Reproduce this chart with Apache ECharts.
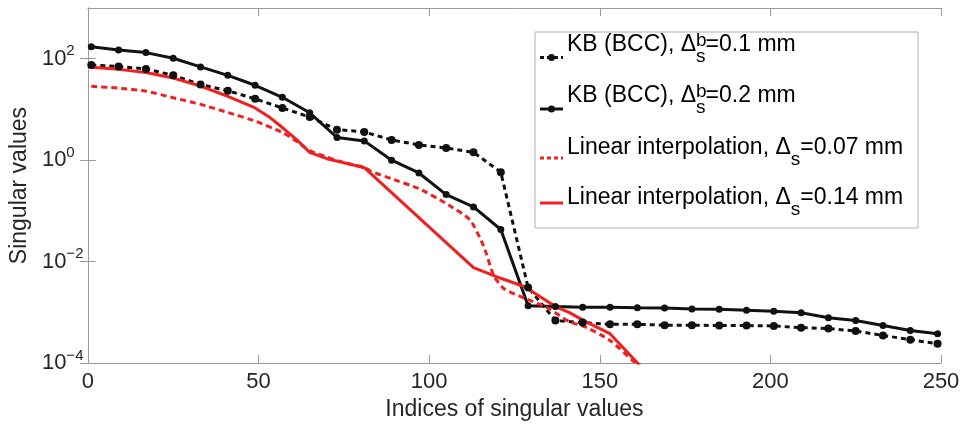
<!DOCTYPE html>
<html>
<head>
<meta charset="utf-8">
<script src="https://cdn.jsdelivr.net/npm/echarts@6/dist/echarts.min.js"></script>
<style>
  html, body { margin: 0; padding: 0; background: #fff; }
  #chart { width: 970px; height: 426px; }
</style>
</head>
<body>
<div id="chart"></div>
<script>
  // indices of the marked points (KB series)
  var kbX = [1, 9, 17, 25, 33, 41, 49, 57, 65, 73, 81, 89, 97, 105, 113, 121,
             129, 137, 145, 153, 161, 169, 177, 185, 193, 201, 209, 217, 225, 233, 241, 249]
  // KB (BCC), delta_s^b = 0.1 mm  (dotted)
  var kb01 = [75, 70, 63, 47, 31, 23.4, 16.2, 10.7, 7.1, 4.0, 3.6, 2.5, 2.0, 1.74, 1.43, 0.58,
              0.0031, 6.9e-4, 6.3e-4, 5.8e-4, 5.8e-4, 5.6e-4, 5.6e-4, 5.5e-4, 5.5e-4, 5.4e-4,
              5.0e-4, 4.8e-4, 4.3e-4, 3.5e-4, 2.9e-4, 2.4e-4]
  // KB (BCC), delta_s^b = 0.2 mm  (solid)
  var kb02 = [172, 148, 132, 102, 69, 47, 30, 17.4, 8.6, 2.8, 2.4, 1.0, 0.56, 0.21, 0.12, 0.043,
              1.35e-3, 1.30e-3, 1.26e-3, 1.26e-3, 1.23e-3, 1.22e-3, 1.17e-3, 1.15e-3, 1.10e-3, 1.05e-3,
              9.8e-4, 7.8e-4, 6.9e-4, 5.5e-4, 4.4e-4, 3.8e-4]
  // linear interpolation, delta_s = 0.07 mm (dashed red)
  var lin007X = [1, 9, 17, 25, 33, 41, 49, 57, 61, 65, 70, 75, 81, 83, 89, 97, 105, 112, 116, 119, 122, 128, 135, 141, 146, 153, 160, 162]
  var lin007 = [28.6, 26.3, 22.9, 17, 12.6, 8.7, 5.9, 3.5, 2.4, 1.55, 1.15, 0.9, 0.72, 0.6, 0.43, 0.275, 0.14, 0.066,
                0.02, 0.0052, 0.0029, 0.0019, 0.0012, 6.6e-4, 5.1e-4, 2.8e-4, 1.07e-4, 8e-5]
  // linear interpolation, delta_s = 0.14 mm (solid red)
  var lin014X = [1, 9, 17, 25, 33, 41, 49, 53, 57, 61, 65, 70, 75, 81, 113, 121, 128, 137, 141, 146, 153, 161, 162]
  var lin014 = [67.6, 61.7, 53.7, 41.7, 28.8, 18.2, 10.7, 7.2, 4.4, 2.6, 1.43, 1.07, 0.89, 0.71,
                0.0076, 0.0047, 0.0032, 0.0013, 0.001, 6.5e-4, 3.8e-4, 1.02e-4, 8.5e-5]

  var xTicks = [0, 50, 100, 150, 200, 250]
  var yTicks = [1e-4, 1e-2, 1, 100]

  var BLACK = '#111'
  var RED = '#ee2020'
  var FRAME = '#9a9a9a'
  var FONT = 'Liberation Sans, Arial, sans-serif'

  function pairs(xs, ys) {
    return xs.map(function (x, i) { return [x, ys[i]] })
  }

  var chart = echarts.init(document.getElementById('chart'))

  var supRich = {
    base: { fontSize: 22, lineHeight: 30, color: '#262626', fontFamily: FONT },
    sup: { fontSize: 15, lineHeight: 15, verticalAlign: 'top', color: '#262626', fontFamily: FONT }
  }

  // legend rows (graphic elements, so the sub/superscripts can stack like matlab's)
  var legRows = [
    { y: 57.5, color: BLACK, dash: [4, 3], marker: true, pre: 'KB (BCC), Δ', sup: 'b', post: '=0.1 mm', bottom: 66.5 },
    { y: 109, color: BLACK, dash: null, marker: true, pre: 'KB (BCC), Δ', sup: 'b', post: '=0.2 mm', bottom: 117.5 },
    { y: 158, color: RED, dash: [4, 3], marker: false, pre: 'Linear interpolation, Δ', sup: '', post: '=0.07 mm', bottom: 169 },
    { y: 203, color: RED, dash: null, marker: false, pre: 'Linear interpolation, Δ', sup: '', post: '=0.14 mm', bottom: 219 }
  ]
  var legRich = {
    t: { fontSize: 23, lineHeight: 23, padding: [0, 0, 10, 0], verticalAlign: 'bottom', color: '#111', fontFamily: FONT },
    sup: { fontSize: 19, lineHeight: 19, padding: [0, 0, 16, 0], width: 0, verticalAlign: 'bottom', color: '#111', fontFamily: FONT },
    sub: { fontSize: 19, lineHeight: 19, verticalAlign: 'bottom', color: '#111', fontFamily: FONT }
  }
  var graphics = [{
    type: 'rect', shape: { x: 535, y: 32, width: 383, height: 196 },
    style: { fill: '#fff', stroke: '#b0b0b0', lineWidth: 1 }, z: 100
  }]
  legRows.forEach(function (r) {
    graphics.push({
      type: 'line', shape: { x1: 540, y1: r.y, x2: 563, y2: r.y },
      style: { stroke: r.color, lineWidth: 3, lineDash: r.dash }, z: 101
    })
    if (r.marker) {
      graphics.push({ type: 'circle', shape: { cx: 551.5, cy: r.y, r: 3.5 }, style: { fill: r.color }, z: 102 })
    }
    var txt = '{t|' + r.pre + '}' + (r.sup ? '{sup|' + r.sup + '}' : '') + '{sub|s}{t|' + r.post + '}'
    graphics.push({
      type: 'text', x: 567, y: r.bottom, z: 102,
      style: { text: txt, rich: legRich, verticalAlign: 'bottom', align: 'left' }
    })
  })

  chart.setOption({
    animation: false,
    backgroundColor: '#fff',
    grid: { left: 85, right: 29, top: 8, bottom: 58, containLabel: false },
    xAxis: [{
      type: 'value', min: 0, max: 250, interval: 50,
      name: 'Indices of singular values', nameLocation: 'middle', nameGap: 27,
      nameTextStyle: { fontSize: 23, color: '#262626', fontFamily: FONT },
      axisLine: { lineStyle: { color: FRAME, width: 1 } },
      axisTick: { inside: true, length: 8, lineStyle: { color: FRAME } },
      axisLabel: { fontSize: 22, color: '#262626', fontFamily: FONT, margin: 8,
        customValues: xTicks },
      splitLine: { show: false }
    }, {
      type: 'value', min: 0, max: 250, interval: 50, position: 'top',
      axisLine: { lineStyle: { color: FRAME, width: 1 } },
      axisTick: { inside: true, length: 8, lineStyle: { color: FRAME } },
      axisLabel: { show: false },
      splitLine: { show: false }
    }],
    yAxis: [{
      type: 'log', logBase: 10, min: 1e-4, max: 1e3,
      name: 'Singular values', nameLocation: 'middle', nameGap: 56,
      nameTextStyle: { fontSize: 23, color: '#262626', fontFamily: FONT },
      axisLine: { show: true, lineStyle: { color: FRAME, width: 1 } },
      axisTick: { show: true, inside: true, length: 8, lineStyle: { color: FRAME }, customValues: yTicks },
      axisLabel: {
        customValues: yTicks, align: 'left', margin: 46,
        formatter: function (v) {
          var e = Math.round(Math.log10(v))
          return '{base|10}{sup|' + (e < 0 ? '\u2212' + (-e) : e) + '}'
        },
        rich: supRich
      },
      minorTick: { show: false },
      splitLine: { show: false }
    }, {
      type: 'log', logBase: 10, min: 1e-4, max: 1e3, position: 'right',
      axisLine: { show: true, lineStyle: { color: FRAME, width: 1 } },
      axisTick: { show: true, inside: true, length: 8, lineStyle: { color: FRAME }, customValues: yTicks },
      axisLabel: { show: false },
      splitLine: { show: false }
    }],
    series: [{
      name: 'KB (BCC) 0.1 mm', type: 'line', data: pairs(kbX, kb01),
      symbol: 'circle', symbolSize: 8, showAllSymbol: true,
      lineStyle: { color: BLACK, width: 3, type: [5, 4] }, itemStyle: { color: BLACK }
    }, {
      name: 'KB (BCC) 0.2 mm', type: 'line', data: pairs(kbX, kb02),
      symbol: 'circle', symbolSize: 7, showAllSymbol: true,
      lineStyle: { color: BLACK, width: 3 }, itemStyle: { color: BLACK }
    }, {
      name: 'Linear interpolation 0.07 mm', type: 'line', data: pairs(lin007X, lin007),
      showSymbol: false, smooth: 0.2,
      lineStyle: { color: RED, width: 3, type: [6, 4] }
    }, {
      name: 'Linear interpolation 0.14 mm', type: 'line', data: pairs(lin014X, lin014),
      showSymbol: false,
      lineStyle: { color: RED, width: 3 }
    }],
    graphic: graphics
  })
</script>
</body>
</html>
